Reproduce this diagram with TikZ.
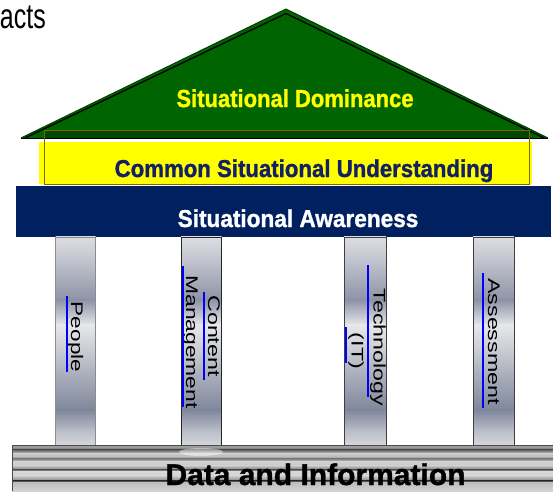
\documentclass[tikz,border=0pt]{standalone}
\usepackage{fontspec}
\setmainfont{Liberation Sans}
\newfontfamily\heavyfont[FakeBold=1.2]{Liberation Sans Bold}
\definecolor{roofgreen}{RGB}{0,100,0}
\definecolor{roofedge}{RGB}{0,64,0}
\definecolor{beamgreen}{RGB}{0,72,0}
\definecolor{olive}{RGB}{120,104,0}
\definecolor{sayellow}{RGB}{255,255,0}
\definecolor{navy}{RGB}{0,32,96}
\definecolor{csutext}{RGB}{20,32,100}
\definecolor{ulblue}{RGB}{0,0,255}
% pillar shading stops
\definecolor{pc0}{HTML}{DCDDE2}
\definecolor{pc1}{HTML}{C9CBD3}
\definecolor{pc2}{HTML}{8D93A6}
\definecolor{pc3}{HTML}{E6E7EA}
\definecolor{pc4}{HTML}{D0D2D8}
\definecolor{pc5}{HTML}{B0B4C0}
\definecolor{pc6}{HTML}{7F879C}
\definecolor{pc7}{HTML}{B8BCC6}
\definecolor{pc8}{HTML}{D6D7DC}
% base shading stops
\definecolor{bs0}{HTML}{505050}
\definecolor{bs1}{HTML}{A0A0A0}
\definecolor{bs2}{HTML}{8C8C8C}
\definecolor{bs3}{HTML}{5E5E5E}
\definecolor{bs4}{HTML}{9A9A9A}
\definecolor{bs5}{HTML}{CACACA}
\definecolor{bs6}{HTML}{B0B0B0}
\definecolor{bs7}{HTML}{858585}
\definecolor{bs8}{HTML}{D2D2D2}
\definecolor{bs9}{HTML}{C4C4C4}
\definecolor{bs10}{HTML}{6E6E6E}
\definecolor{bs11}{HTML}{D8D8D8}
\definecolor{bs12}{HTML}{CDCDCD}
\definecolor{bs13}{HTML}{8A8A8A}
\definecolor{bs14}{HTML}{4A4A4A}
\definecolor{bs15}{HTML}{BEBEBE}
\definecolor{bs16}{HTML}{D4D4D4}
\newcommand\mypillar[3]{%
  \foreach \ya/\yb/\ca/\cb in {237/255/pc0/pc1,255/300/pc1/pc2,300/325/pc2/pc3,325/345/pc3/pc4,345/370/pc4/pc5,370/410/pc5/pc6,410/430/pc6/pc7,430/445/pc7/pc8}
    {\shade[top color=\ca,bottom color=\cb] (#1,\ya-0.3) rectangle (#2,\yb+0.3);}
  \draw[#3,line width=1pt] (#1,237) rectangle (#2,445);
}
\tikzset{
  bartext/.style={inner sep=0pt,anchor=base},
  pilltext/.style={inner sep=0pt,anchor=base,rotate=-90,text=black,
    font=\fontsize{16.8pt}{18pt}\selectfont},
  uline/.style={ulblue,line width=1.8pt}
}
\begin{document}
\begin{tikzpicture}[x=1pt,y=-1pt]
\useasboundingbox (0,0) rectangle (553,491);
\fill[white] (0,0) rectangle (553,491);

% top-left cropped title
\node[inner sep=0pt,anchor=base east,font=\fontsize{25pt}{26pt}\selectfont] (acts) at (46,28) {\scalebox{1}[1.4]{acts}};

% roof
\fill[roofgreen] (21,138) -- (286,9) -- (548,138) -- cycle;
\draw[roofedge,line width=1pt,line join=miter] (21,138) -- (286,9) -- (548,138);
\draw[black,line width=1.3pt] (25,138) -- (286,13.5) -- (544,138);
\fill[beamgreen] (44,130) rectangle (529,138);
\draw[black,line width=1.2pt] (21,138.5) -- (548,138.5);

% common situational understanding
\fill[sayellow] (39,142) rectangle (532,184);
\draw[olive,line width=1pt] (44,130) rectangle (529,184.5);

% situational awareness
\fill[navy] (16,186) rectangle (551,237);

% pillars
\mypillar{55.7}{95.7}{black!45}
\mypillar{181}{221.7}{black!85}
\mypillar{344}{386}{black!75}
\mypillar{473}{514}{black!75}

% base
\foreach \ya/\yb/\ca/\cb in {445/446/bs0/bs1,446/448/bs1/bs2,448/450/bs2/bs3,450/452/bs3/bs4,452/454/bs4/bs5,454/457/bs5/bs6,457/459/bs6/bs7,459/462/bs7/bs8,462/466/bs8/bs9,466/470/bs9/bs10,470/472/bs10/bs11,472/476/bs11/bs12,476/480/bs12/bs13,480/481/bs13/bs14,481/483/bs14/bs15,483/491/bs15/bs16}
  {\shade[top color=\ca,bottom color=\cb] (12,\ya-0.2) rectangle (553,\yb+0.2);}
\fill[white,opacity=0.45] (201,452) ellipse [x radius=22pt, y radius=4pt];
\draw[black!70,line width=0.8pt] (12,491) -- (12,445) -- (553,445);

% texts
\node[bartext,text=sayellow,font=\fontsize{22pt}{24pt}\heavyfont] (dom) at (295,107) {\scalebox{1}[1.12]{Situational Dominance}};
\node[bartext,text=csutext,font=\fontsize{22.2pt}{24pt}\heavyfont] (csu) at (304,177) {\scalebox{1}[1.1]{Common Situational Understanding}};
\node[bartext,text=white,font=\fontsize{22.6pt}{24pt}\heavyfont] (sa) at (298,227) {\scalebox{1}[1.08]{Situational Awareness}};
\node[bartext,text=black,font=\fontsize{30pt}{32pt}\heavyfont] (di) at (315.5,485) {Data and Information};

\node[pilltext] (people) at (71,337) {\scalebox{1.34}[1]{People}};
\node[pilltext] (content) at (208,336) {\scalebox{1.38}[1]{Content}};
\node[pilltext] (mgmt) at (186,342) {\scalebox{1.36}[1]{Management}};
\node[pilltext] (tech) at (373.5,347.5) {\scalebox{1.38}[1]{Technology}};
\node[pilltext] (it) at (351.5,351) {\scalebox{1.38}[1]{(IT)}};
\node[pilltext] (assess) at (488,341.5) {\scalebox{1.38}[1]{Assessment}};

% blue underlines
\draw[uline] (66.7,296) -- (66.7,372);
\draw[uline] (204,292) -- (204,380);
\draw[uline] (183,266) -- (183,407);
\draw[uline] (368,265) -- (368,397);
\draw[uline] (346,327) -- (346,363);
\draw[uline] (483,273) -- (483,408);
\end{tikzpicture}
\end{document}
